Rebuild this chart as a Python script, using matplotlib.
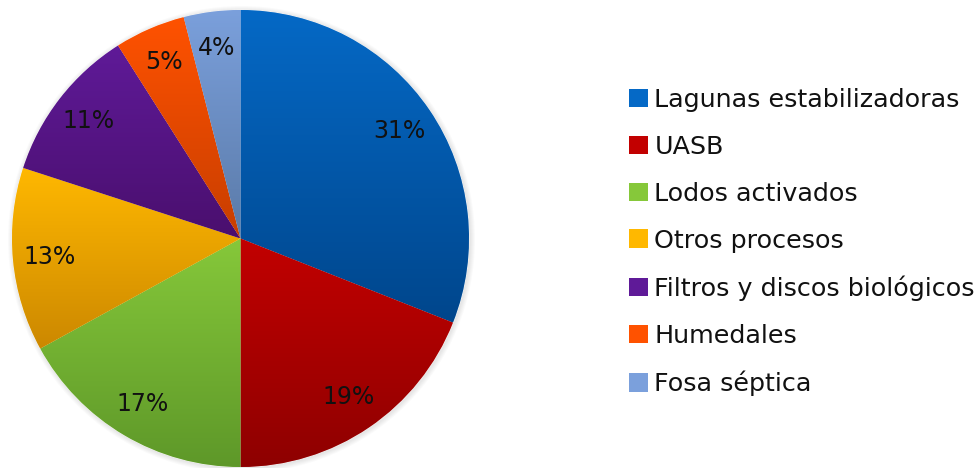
import numpy as np
import matplotlib
matplotlib.use("Agg")
import matplotlib.pyplot as plt
import matplotlib.patches as mpatches
from matplotlib.colors import LinearSegmentedColormap

categories = ["Lagunas estabilizadoras", "UASB", "Lodos activados", "Otros procesos",
              "Filtros y discos biológicos", "Humedales", "Fosa séptica"]
values = [31, 19, 17, 13, 11, 5, 4]
top_colors = ["#0569C6", "#C20000", "#86C83A", "#FFB800", "#5F1A98", "#FF5200", "#7BA0DC"]
bot_colors = ["#00468C", "#8E0000", "#5E9829", "#CC8800", "#4A0F6E", "#C83E00", "#5A7AA8"]

plt.rcParams['font.family'] = ['DejaVu Sans']

W, H = 976, 468
fig = plt.figure(figsize=(W/100, H/100), dpi=100)
ax = fig.add_axes([0, 0, 1, 1])
ax.set_xlim(0, W)
ax.set_ylim(0, H)
ax.set_aspect('equal')
ax.axis('off')

cx, cy, R = 240.5, 229.5, 228.5

# soft shadow
for i in range(5):
    ax.add_patch(mpatches.Circle((cx + 1, cy - 1), R + 1 + i * 1.0, facecolor='#000000',
                                 alpha=0.018, edgecolor='none', zorder=0))

wedges, texts, autotexts = ax.pie(values, startangle=90, counterclock=False,
                                  center=(cx, cy), radius=R, colors=top_colors,
                                  autopct='%1.0f%%', pctdistance=0.84,
                                  wedgeprops=dict(edgecolor='white', linewidth=0.4),
                                  textprops=dict(fontsize=17, color='#111111'))
ax.set_xlim(0, W)
ax.set_ylim(0, H)

for w, ct, cb in zip(wedges, top_colors, bot_colors):
    verts = w.get_patch_transform().transform(w.get_path().vertices)
    x0, x1 = verts[:, 0].min(), verts[:, 0].max()
    y0, y1 = verts[:, 1].min(), verts[:, 1].max()
    cmap = LinearSegmentedColormap.from_list('g', [cb, ct])
    grad = np.linspace(0, 1, 256).reshape(-1, 1)
    im = ax.imshow(grad, extent=[x0, x1, y0, y1], origin='lower', cmap=cmap,
                   aspect='auto', zorder=1.5, interpolation='bilinear')
    im.set_clip_path(w)
for t in autotexts:
    t.set_zorder(3)

handles = [mpatches.Patch(facecolor=c, edgecolor='none') for c in top_colors]
leg = ax.legend(handles, categories, loc='upper left', bbox_to_anchor=(629/W, 1 - 88/H),
                frameon=False, fontsize=18.3, handlelength=0.75, handleheight=0.75,
                handletextpad=0.25, labelspacing=0.90, borderaxespad=0, borderpad=0)
for t in leg.get_texts():
    t.set_color('#111111')

fig.savefig("out.png", dpi=100)
